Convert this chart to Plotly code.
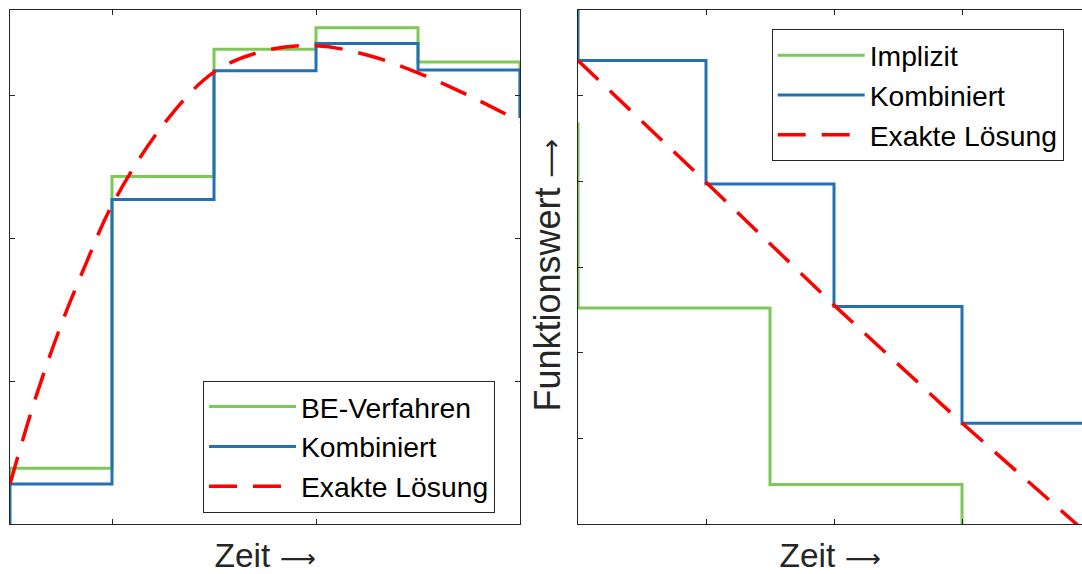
import plotly.graph_objects as go

# ---------------- data: left panel ----------------
t_left = [0, 1, 2, 3, 4, 5]
be_start = 0.28
be_levels = [0.39, 2.43, 3.32, 3.47, 3.23]
be_end = 2.84
komb_left_start = 0.0
komb_left_levels = [0.28, 2.27, 3.17, 3.36, 3.175]
komb_left_end = 2.84
exact_left_t = [0, 0.25, 0.5, 0.75, 1, 1.5, 2, 2.5, 3, 3.5, 4, 4.5, 5]
exact_left_y = [0.28, 0.88, 1.39, 1.83, 2.23, 2.79, 3.16, 3.31, 3.345, 3.28, 3.155, 2.995, 2.815]

# ---------------- data: right panel ----------------
t_impl = [0, 1.5, 3]
impl_start = 4.69
impl_levels = [2.52, 0.46]
impl_end = 0.0
t_right = [0, 1, 2, 3, 4]
komb_right_start = 6.3
komb_right_levels = [5.41, 3.97, 2.54, 1.175]
komb_right_end = 1.175
exact_right_y = [5.41, 3.99, 2.555, 1.178, -0.14]

left_xticks = [0, 1, 3, 5]
left_yticks = [0, 1, 2, 3]
right_xticks = [0, 1, 2, 3, 4]
right_yticks = [0, 1, 2, 3, 4, 5, 6]

GREEN = "#7dc856"
BLUE = "#2272b3"
RED = "#ff0000"
AX = "#262626"
FONT = "Liberation Sans, Arial, sans-serif"
ARROW = "<span style='font-family:DejaVu Sans;font-size:25px'>⟶</span>"
DASH = "28px,16px"


def stairs(t, start, levels, end):
    xs = [t[0]]
    ys = [start]
    for i, lv in enumerate(levels):
        xs += [t[i], t[i + 1]]
        ys += [lv, lv]
    xs.append(t[len(levels)])
    ys.append(end)
    return xs, ys


fig = go.Figure()

x, y = stairs(t_left, be_start, be_levels, be_end)
fig.add_trace(go.Scatter(x=x, y=y, mode="lines", name="BE-Verfahren",
                         line=dict(color=GREEN, width=3), xaxis="x", yaxis="y", legend="legend"))
x, y = stairs(t_left, komb_left_start, komb_left_levels, komb_left_end)
fig.add_trace(go.Scatter(x=x, y=y, mode="lines", name="Kombiniert",
                         line=dict(color=BLUE, width=3), xaxis="x", yaxis="y", legend="legend"))
fig.add_trace(go.Scatter(x=exact_left_t, y=exact_left_y, mode="lines", name="Exakte Lösung",
                         line=dict(color=RED, width=3.5, dash=DASH, shape="spline"),
                         xaxis="x", yaxis="y", legend="legend"))

x, y = stairs(t_impl, impl_start, impl_levels, impl_end)
fig.add_trace(go.Scatter(x=x, y=y, mode="lines", name="Implizit",
                         line=dict(color=GREEN, width=3), xaxis="x2", yaxis="y2", legend="legend2"))
x, y = stairs(t_right, komb_right_start, komb_right_levels, komb_right_end)
fig.add_trace(go.Scatter(x=x, y=y, mode="lines", name="Kombiniert",
                         line=dict(color=BLUE, width=3), xaxis="x2", yaxis="y2", legend="legend2"))
fig.add_trace(go.Scatter(x=t_right, y=exact_right_y, mode="lines", name="Exakte Lösung",
                         line=dict(color=RED, width=3.5, dash=DASH),
                         xaxis="x2", yaxis="y2", legend="legend2"))

W, H = 1082, 574
ydom = [1 - 524 / H, 1 - 10 / H]

axis_common = dict(showgrid=False, zeroline=False, showline=True, linecolor=AX, linewidth=1,
                   ticks="inside", ticklen=5, tickcolor=AX, tickwidth=1, showticklabels=False)
title_font = dict(family=FONT, size=33.5, color=AX)

legend_common = dict(xanchor="left", yanchor="top", bordercolor=AX, borderwidth=1, bgcolor="white",
                     font=dict(family=FONT, size=28.3, color="black"), itemwidth=87, tracegroupgap=0)

fig.update_layout(
    width=W, height=H, margin=dict(l=0, r=0, t=0, b=0),
    paper_bgcolor="white", plot_bgcolor="white",
    font=dict(family=FONT),
    xaxis=dict(domain=[10 / W, 520 / W], range=[0, 5], tickvals=left_xticks, mirror="ticks",
               title=dict(text="Zeit " + ARROW, font=title_font, standoff=20), anchor="y",
               **axis_common),
    yaxis=dict(domain=ydom, range=[0, 514 / 143], tickvals=left_yticks, mirror="ticks",
               anchor="x", **axis_common),
    xaxis2=dict(domain=[578 / W, 1.0], range=[0, 504 / 128], tickvals=right_xticks, mirror="ticks",
                title=dict(text="Zeit " + ARROW, font=title_font, standoff=20), anchor="y2",
                **axis_common),
    yaxis2=dict(domain=ydom, range=[0, 6], tickvals=right_yticks, mirror=False,
                anchor="x2", **axis_common),
    legend=dict(x=203 / W, y=1 - 380.7 / H, **legend_common),
    legend2=dict(x=771.7 / W, y=1 - 29.3 / H, **legend_common),
    showlegend=True,
    annotations=[dict(text="Funktionswert " + ARROW.replace("25px", "27px"), textangle=-90,
                      xref="paper", yref="paper", x=547.5 / W, y=1 - 275 / H,
                      xanchor="center", yanchor="middle", showarrow=False,
                      font=dict(family=FONT, size=36, color=AX))],
)

fig.write_html("out.html")
